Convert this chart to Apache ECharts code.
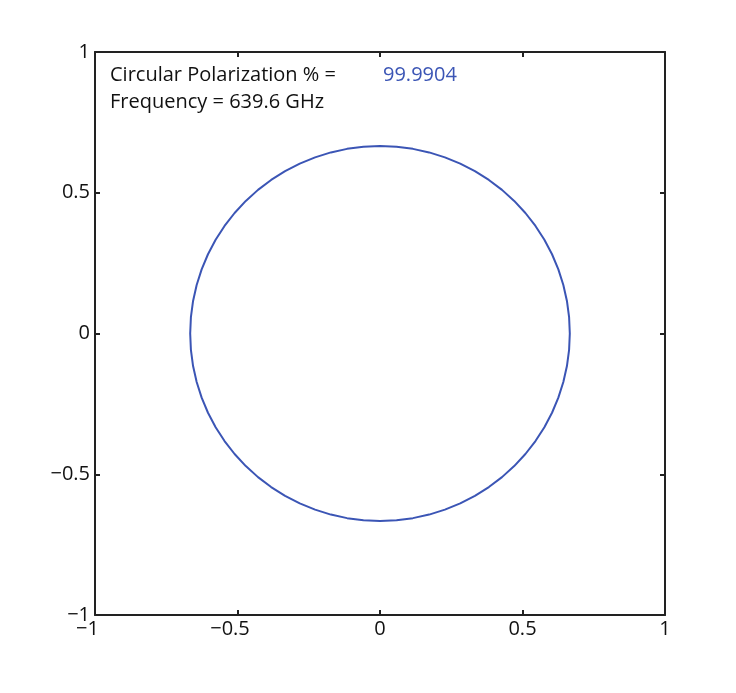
<!DOCTYPE html>
<html>
<head>
<meta charset="utf-8">
<script src="https://cdn.jsdelivr.net/npm/echarts@6/dist/echarts.min.js"></script>
<style>html,body{margin:0;padding:0;background:#fff;}#c{width:736px;height:693px;}</style>
</head>
<body>
<div id="c"></div>
<script>
// Polarization ellipse trace (every 5 degrees)
var traceX = [0.666,0.6635,0.6559,0.6433,0.6258,0.6036,0.5768,0.5455,0.5102,0.4709,0.4281,0.3820,0.333,0.2815,0.2278,0.1724,0.1156,0.0580,0,
  -0.0580,-0.1156,-0.1724,-0.2278,-0.2815,-0.333,-0.3820,-0.4281,-0.4709,-0.5102,-0.5455,-0.5768,-0.6036,-0.6258,-0.6433,-0.6559,-0.6635,-0.666,
  -0.6635,-0.6559,-0.6433,-0.6258,-0.6036,-0.5768,-0.5455,-0.5102,-0.4709,-0.4281,-0.3820,-0.333,-0.2815,-0.2278,-0.1724,-0.1156,-0.0580,0,
  0.0580,0.1156,0.1724,0.2278,0.2815,0.333,0.3820,0.4281,0.4709,0.5102,0.5455,0.5768,0.6036,0.6258,0.6433,0.6559,0.6635,0.666];
var traceY = [0,0.0580,0.1156,0.1724,0.2278,0.2815,0.333,0.3820,0.4281,0.4709,0.5102,0.5455,0.5768,0.6036,0.6258,0.6433,0.6559,0.6635,0.666,
  0.6635,0.6559,0.6433,0.6258,0.6036,0.5768,0.5455,0.5102,0.4709,0.4281,0.3820,0.333,0.2815,0.2278,0.1724,0.1156,0.0580,0,
  -0.0580,-0.1156,-0.1724,-0.2278,-0.2815,-0.333,-0.3820,-0.4281,-0.4709,-0.5102,-0.5455,-0.5768,-0.6036,-0.6258,-0.6433,-0.6559,-0.6635,-0.666,
  -0.6635,-0.6559,-0.6433,-0.6258,-0.6036,-0.5768,-0.5455,-0.5102,-0.4709,-0.4281,-0.3820,-0.333,-0.2815,-0.2278,-0.1724,-0.1156,-0.0580,0];
var axisMin = -1, axisMax = 1, axisStep = 0.5;
var cpLabel = 'Circular Polarization % =';
var cpValue = '99.9904';
var freqLabel = 'Frequency = 639.6 GHz';

var points = traceX.map(function (x, i) { return [x, traceY[i]]; });
var FONT = 'Open Sans';
var FS = 20;
var AX = '#222';
function fmt(v) {
  if (v < 0) return '{n|\u2212' + String(Math.abs(v)) + '}{p|}';
  return '{n|' + String(v) + '}';
}
function fmtY(v) {
  return v < 0 ? '\u2212' + String(Math.abs(v)) : String(v);
}
var chart = echarts.init(document.getElementById('c'), null, {renderer: 'canvas'});
var common = {
  type: 'value', min: axisMin, max: axisMax, interval: axisStep,
  axisLine: {show: true, onZero: false, lineStyle: {color: AX, width: 2}},
  axisTick: {show: true, inside: true, length: 5, lineStyle: {color: AX, width: 2}},
  splitLine: {show: false}
};
chart.setOption({
  animation: false,
  backgroundColor: '#fff',
  grid: {left: 95, top: 52, width: 570, height: 563, containLabel: false},
  xAxis: [
    Object.assign({}, common, {position: 'bottom', axisLabel: {show: true, margin: 4, formatter: fmt,
      rich: {n: {fontFamily: FONT, fontSize: FS, color: '#111'}, p: {width: 15}}}}),
    Object.assign({}, common, {position: 'top', axisLabel: {show: false}})
  ],
  yAxis: [
    Object.assign({}, common, {position: 'left', axisLabel: {show: true, margin: 5, formatter: fmtY,
      fontFamily: FONT, fontSize: FS, color: '#111'}}),
    Object.assign({}, common, {position: 'right', axisLabel: {show: false}})
  ],
  graphic: [
    {type: 'text', left: 110, top: 65, style: {text: cpLabel, fontFamily: FONT, fontSize: FS, fill: '#111'}},
    {type: 'text', left: 383, top: 65, style: {text: cpValue, fontFamily: FONT, fontSize: FS, fill: '#3b55b5'}},
    {type: 'text', left: 110, top: 92, style: {text: freqLabel, fontFamily: FONT, fontSize: FS, fill: '#111'}}
  ],
  series: [{
    type: 'line', data: points, xAxisIndex: 0, yAxisIndex: 0,
    showSymbol: false, symbol: 'none', smooth: false,
    lineStyle: {color: '#3b55b5', width: 2}
  }]
});
</script>
</body>
</html>
